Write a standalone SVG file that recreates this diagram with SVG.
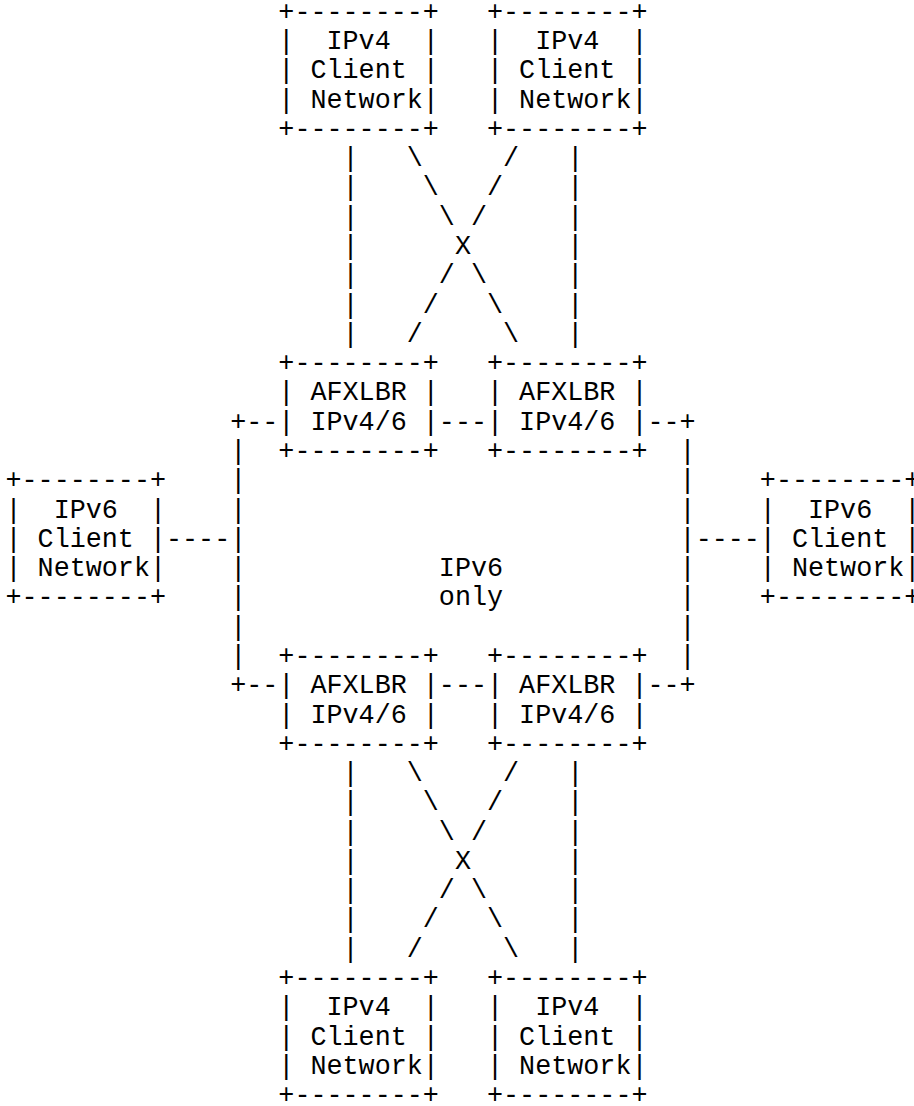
<svg xmlns="http://www.w3.org/2000/svg" width="914" height="1106" viewBox="0 0 914 1106" xml:space="preserve">
<style>
text{font-family:"Liberation Mono","Courier New",monospace;font-size:26.75px;fill:#000;white-space:pre}
</style>
<rect x="0" y="0" width="914" height="1106" fill="#fff"/>
<g id="ipv4-client-top-left" transform="translate(278.35,0)">
<text x="0" y="19.7">+--------+</text>
<text x="0" y="49.0">|  IPv4  |</text>
<text x="0" y="78.3">| Client |</text>
<text x="0" y="107.5">| Network|</text>
<text x="0" y="136.8">+--------+</text>
</g>
<g id="ipv4-client-top-right" transform="translate(487,0)">
<text x="0" y="19.7">+--------+</text>
<text x="0" y="49.0">|  IPv4  |</text>
<text x="0" y="78.3">| Client |</text>
<text x="0" y="107.5">| Network|</text>
<text x="0" y="136.8">+--------+</text>
</g>
<g id="afxlbr-top-left" transform="translate(278.35,0)">
<text x="0" y="371.1">+--------+</text>
<text x="0" y="400.4">| AFXLBR |</text>
<text x="0" y="429.6">| IPv4/6 |</text>
<text x="0" y="458.9">+--------+</text>
</g>
<g id="afxlbr-top-right" transform="translate(487,0)">
<text x="0" y="371.1">+--------+</text>
<text x="0" y="400.4">| AFXLBR |</text>
<text x="0" y="429.6">| IPv4/6 |</text>
<text x="0" y="458.9">+--------+</text>
</g>
<g id="ipv6-client-left" transform="translate(5.5,0)">
<text x="0" y="488.2">+--------+</text>
<text x="0" y="517.5">|  IPv6  |</text>
<text x="0" y="546.8">| Client |</text>
<text x="0" y="576.1">| Network|</text>
<text x="0" y="605.3">+--------+</text>
</g>
<g id="ipv6-client-right" transform="translate(759.85,0)">
<text x="0" y="488.2">+--------+</text>
<text x="0" y="517.5">|  IPv6  |</text>
<text x="0" y="546.8">| Client |</text>
<text x="0" y="576.1">| Network|</text>
<text x="0" y="605.3">+--------+</text>
</g>
<g id="ipv6-only" transform="translate(438.85,0)">
<text x="0" y="576.1">IPv6</text>
<text x="0" y="605.3">only</text>
</g>
<g id="afxlbr-bottom-left" transform="translate(278.35,0)">
<text x="0" y="663.9">+--------+</text>
<text x="0" y="693.2">| AFXLBR |</text>
<text x="0" y="722.5">| IPv4/6 |</text>
<text x="0" y="751.8">+--------+</text>
</g>
<g id="afxlbr-bottom-right" transform="translate(487,0)">
<text x="0" y="663.9">+--------+</text>
<text x="0" y="693.2">| AFXLBR |</text>
<text x="0" y="722.5">| IPv4/6 |</text>
<text x="0" y="751.8">+--------+</text>
</g>
<g id="ipv4-client-bottom-left" transform="translate(278.35,0)">
<text x="0" y="986.0">+--------+</text>
<text x="0" y="1015.3">|  IPv4  |</text>
<text x="0" y="1044.6">| Client |</text>
<text x="0" y="1073.9">| Network|</text>
<text x="0" y="1103.1">+--------+</text>
</g>
<g id="ipv4-client-bottom-right" transform="translate(487,0)">
<text x="0" y="986.0">+--------+</text>
<text x="0" y="1015.3">|  IPv4  |</text>
<text x="0" y="1044.6">| Client |</text>
<text x="0" y="1073.9">| Network|</text>
<text x="0" y="1103.1">+--------+</text>
</g>
<g id="connectors">
<g transform="translate(342.55,0)">
<text x="0" y="166.1">|   \     /   |</text>
<text x="0" y="195.4">|    \   /    |</text>
<text x="0" y="224.7">|     \ /     |</text>
<text x="0" y="254.0">|      X      |</text>
<text x="0" y="283.2">|     / \     |</text>
<text x="0" y="312.5">|    /   \    |</text>
<text x="0" y="341.8">|   /     \   |</text>
<text x="0" y="781.0">|   \     /   |</text>
<text x="0" y="810.3">|    \   /    |</text>
<text x="0" y="839.6">|     \ /     |</text>
<text x="0" y="868.9">|      X      |</text>
<text x="0" y="898.2">|     / \     |</text>
<text x="0" y="927.4">|    /   \    |</text>
<text x="0" y="956.7">|   /     \   |</text>
</g>
<text x="230.2" y="429.6">+--</text>
<text x="438.85" y="429.6">---</text>
<text x="647.5" y="429.6">--+</text>
<text x="230.2" y="693.2">+--</text>
<text x="438.85" y="693.2">---</text>
<text x="647.5" y="693.2">--+</text>
<g transform="translate(230.2,0)">
<text x="0" y="458.9">|</text>
<text x="0" y="488.2">|</text>
<text x="0" y="517.5">|</text>
<text x="0" y="546.8">|</text>
<text x="0" y="576.1">|</text>
<text x="0" y="605.3">|</text>
<text x="0" y="634.6">|</text>
<text x="0" y="663.9">|</text>
</g>
<g transform="translate(679.6,0)">
<text x="0" y="458.9">|</text>
<text x="0" y="488.2">|</text>
<text x="0" y="517.5">|</text>
<text x="0" y="546.8">|----</text>
<text x="0" y="576.1">|</text>
<text x="0" y="605.3">|</text>
<text x="0" y="634.6">|</text>
<text x="0" y="663.9">|</text>
</g>
<text x="166" y="546.8">----</text>
</g>
</svg>
